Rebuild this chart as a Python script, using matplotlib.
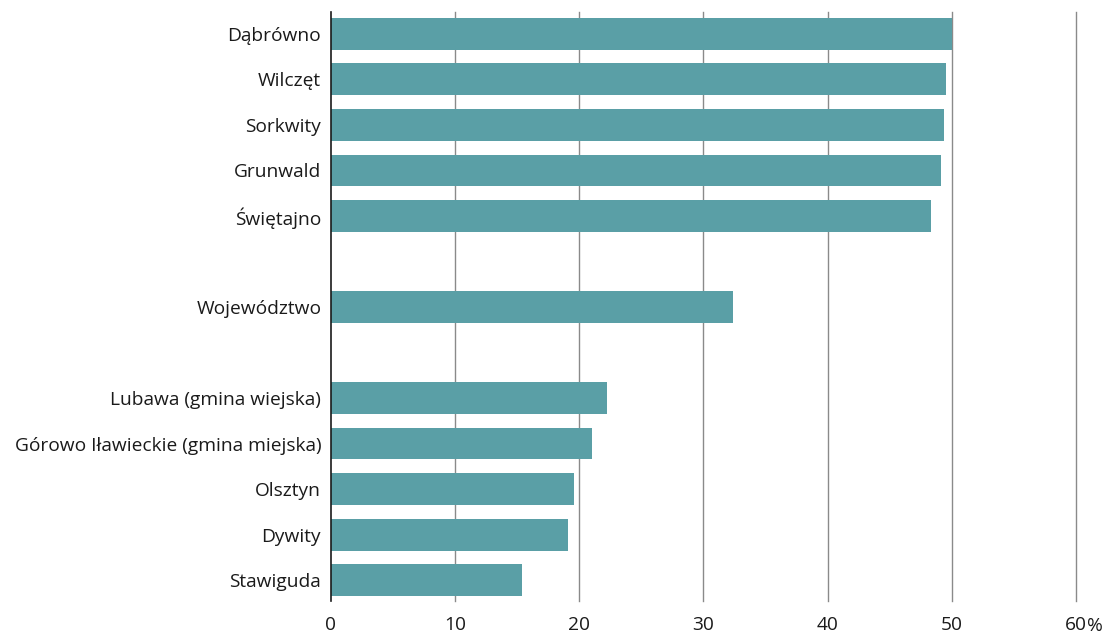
import matplotlib.pyplot as plt

plt.rcParams['font.family'] = ['Open Sans', 'DejaVu Sans']

# data
gminy = ['Dąbrówno', 'Wilczęt', 'Sorkwity', 'Grunwald', 'Świętajno',
         'Województwo',
         'Lubawa (gmina wiejska)', 'Górowo Iławieckie (gmina miejska)',
         'Olsztyn', 'Dywity', 'Stawiguda']
wartosci = [50.0, 49.5, 49.4, 49.1, 48.3, 32.4, 22.2, 21.0, 19.6, 19.1, 15.4]
pozycje = [0, 1, 2, 3, 4, 6, 8, 9, 10, 11, 12]
ticki = [0, 10, 20, 30, 40, 50, 60]
tick_labels = ['0', '10', '20', '30', '40', '50', '60']

fig = plt.figure(figsize=(11.11, 6.34), dpi=100)
ax = fig.add_axes([0.2979, 0.052, 0.6706, 0.929])

ax.barh(pozycje, wartosci, height=0.7, color='#5a9fa6', zorder=2)

ax.set_xlim(0, 60)
ax.set_ylim(12.46, -0.48)
ax.set_yticks(pozycje)
ax.set_yticklabels(gminy, fontsize=13.8, color='#1a1a1a')
ax.set_xticks(ticki)
ax.set_xticklabels(tick_labels, fontsize=13.8, color='#1a1a1a')
ax.tick_params(length=0)
ax.tick_params(axis='y', pad=7)
ax.tick_params(axis='x', pad=11)

# jednostka przy ostatnim ticku
ax.annotate('%', xy=(60, 0), xycoords=('data', 'axes fraction'),
            xytext=(11, -11 * 100 / 72 - 1), textcoords='offset pixels',
            ha='left', va='top', fontsize=13.8, color='#1a1a1a')

for x in ticki[1:]:
    ax.axvline(x, color='#8a8a8a', linewidth=1, zorder=1, clip_on=False)

for s in ['top', 'right', 'bottom']:
    ax.spines[s].set_visible(False)
ax.spines['left'].set_color('#1a1a1a')
ax.spines['left'].set_linewidth(1.2)
ax.spines['left'].set_zorder(3)

fig.savefig('out.png', dpi=100)
